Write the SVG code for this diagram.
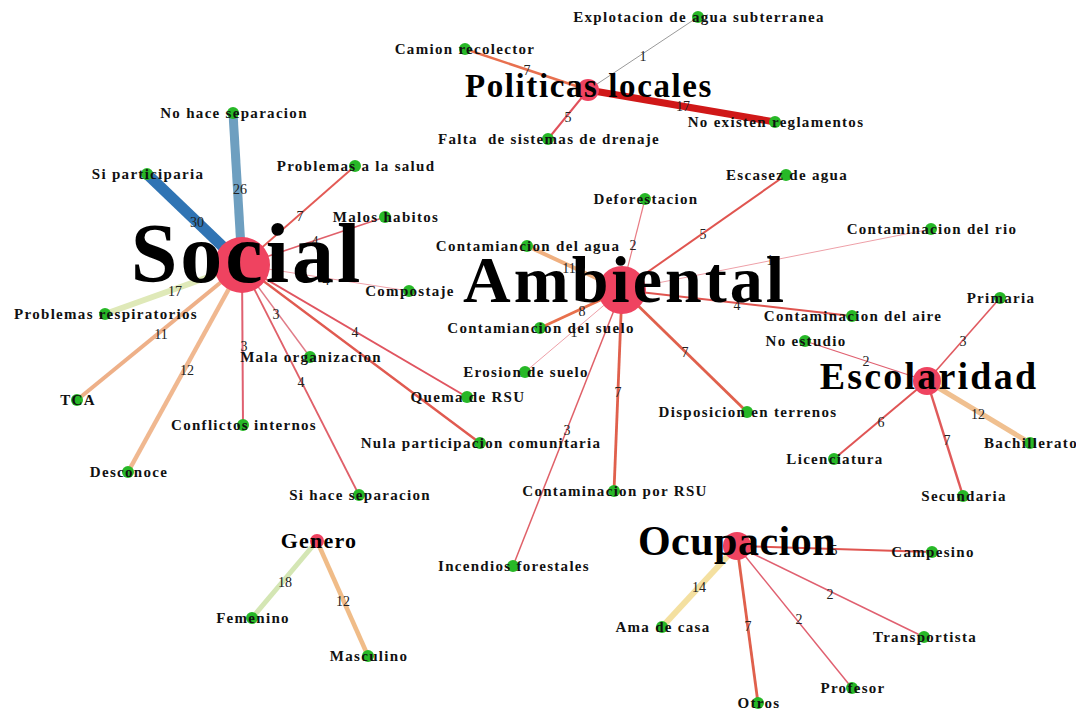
<svg xmlns="http://www.w3.org/2000/svg" width="1076" height="711" viewBox="0 0 1076 711">
<style>
.e{fill:none;stroke-linecap:butt}
.hub{fill:#ef4360}
.leaf{fill:#27b827}
.lbl{font-family:"Liberation Serif",serif;font-weight:bold;font-size:15px;letter-spacing:1.3px;fill:#111;text-anchor:middle}
.el{font-family:"Liberation Serif",serif;font-size:14px;fill:#222;text-anchor:middle}
.h{font-family:"Liberation Serif",serif;font-weight:bold;fill:#000;text-anchor:middle}
</style>
<rect width="1076" height="711" fill="#fff"/>
<g id="connectors">
<line class="e" x1="588" y1="90" x2="698" y2="17" stroke="#9a9a9a" stroke-width="1"/>
<line class="e" x1="588" y1="90" x2="465" y2="49" stroke="#e8704f" stroke-width="2.5"/>
<line class="e" x1="588" y1="90" x2="775" y2="122" stroke="#d01818" stroke-width="7"/>
<line class="e" x1="588" y1="90" x2="548" y2="139" stroke="#e0505a" stroke-width="2"/>
<line class="e" x1="242" y1="265" x2="233" y2="113" stroke="#6e9fc0" stroke-width="9"/>
<line class="e" x1="242" y1="265" x2="147" y2="174" stroke="#3074b4" stroke-width="11"/>
<line class="e" x1="242" y1="265" x2="355" y2="166" stroke="#e35a55" stroke-width="2"/>
<line class="e" x1="242" y1="265" x2="385" y2="217" stroke="#e0606a" stroke-width="1.6"/>
<line class="e" x1="242" y1="265" x2="409" y2="291" stroke="#eea0a8" stroke-width="1"/>
<line class="e" x1="242" y1="265" x2="105" y2="314" stroke="#dfe9b8" stroke-width="6"/>
<line class="e" x1="242" y1="265" x2="77" y2="400" stroke="#eeb088" stroke-width="4"/>
<line class="e" x1="242" y1="265" x2="128" y2="472" stroke="#f0b890" stroke-width="4.5"/>
<line class="e" x1="242" y1="265" x2="243" y2="425" stroke="#e06070" stroke-width="2"/>
<line class="e" x1="242" y1="265" x2="310" y2="357" stroke="#e07c88" stroke-width="1.5"/>
<line class="e" x1="242" y1="265" x2="359" y2="495" stroke="#e0606a" stroke-width="1.8"/>
<line class="e" x1="242" y1="265" x2="467" y2="397" stroke="#e05560" stroke-width="2"/>
<line class="e" x1="242" y1="265" x2="480" y2="443" stroke="#e05a50" stroke-width="2.5"/>
<line class="e" x1="622" y1="290" x2="645" y2="199" stroke="#e87c84" stroke-width="1.2"/>
<line class="e" x1="622" y1="290" x2="786" y2="175" stroke="#e05550" stroke-width="2"/>
<line class="e" x1="622" y1="290" x2="931" y2="229" stroke="#eea0a8" stroke-width="1"/>
<line class="e" x1="622" y1="290" x2="527" y2="246" stroke="#f0b080" stroke-width="4"/>
<line class="e" x1="622" y1="290" x2="540" y2="328" stroke="#e8704c" stroke-width="3"/>
<line class="e" x1="622" y1="290" x2="525" y2="372" stroke="#eea0a8" stroke-width="1"/>
<line class="e" x1="622" y1="290" x2="852" y2="316" stroke="#e05550" stroke-width="2"/>
<line class="e" x1="622" y1="290" x2="747" y2="412" stroke="#e0604c" stroke-width="2.8"/>
<line class="e" x1="622" y1="290" x2="614" y2="491" stroke="#e0604c" stroke-width="2.8"/>
<line class="e" x1="622" y1="290" x2="513" y2="566" stroke="#e06068" stroke-width="1.5"/>
<line class="e" x1="927" y1="381" x2="1000" y2="298" stroke="#e05a60" stroke-width="1.6"/>
<line class="e" x1="927" y1="381" x2="805" y2="341" stroke="#e06070" stroke-width="1.3"/>
<line class="e" x1="927" y1="381" x2="1030" y2="443" stroke="#f0c090" stroke-width="5"/>
<line class="e" x1="927" y1="381" x2="834" y2="459" stroke="#e05555" stroke-width="2"/>
<line class="e" x1="927" y1="381" x2="963" y2="496" stroke="#e05a5a" stroke-width="2.5"/>
<line class="e" x1="737" y1="546" x2="932" y2="552" stroke="#e05550" stroke-width="2"/>
<line class="e" x1="737" y1="546" x2="662" y2="627" stroke="#f4e0a0" stroke-width="6"/>
<line class="e" x1="737" y1="546" x2="758" y2="703" stroke="#e0604c" stroke-width="2.8"/>
<line class="e" x1="737" y1="546" x2="852" y2="688" stroke="#e06070" stroke-width="1.5"/>
<line class="e" x1="737" y1="546" x2="924" y2="637" stroke="#e06070" stroke-width="1.5"/>
<line class="e" x1="317" y1="541" x2="252" y2="618" stroke="#d4e6b4" stroke-width="5"/>
<line class="e" x1="317" y1="541" x2="368" y2="656" stroke="#f0bc88" stroke-width="4.5"/>
<text class="el" x="643" y="61">1</text>
<text class="el" x="527" y="75">7</text>
<text class="el" x="683" y="111">17</text>
<text class="el" x="568" y="122">5</text>
<text class="el" x="240" y="194">26</text>
<text class="el" x="197" y="227">30</text>
<text class="el" x="300" y="221">7</text>
<text class="el" x="315" y="246">4</text>
<text class="el" x="326" y="285">4</text>
<text class="el" x="175" y="296">17</text>
<text class="el" x="161" y="339">11</text>
<text class="el" x="187" y="375">12</text>
<text class="el" x="244" y="351">3</text>
<text class="el" x="276" y="319">3</text>
<text class="el" x="301" y="387">4</text>
<text class="el" x="355" y="337">4</text>
<text class="el" x="633" y="250">2</text>
<text class="el" x="703" y="239">5</text>
<text class="el" x="770" y="265">1</text>
<text class="el" x="569" y="273">11</text>
<text class="el" x="582" y="316">8</text>
<text class="el" x="574" y="337">1</text>
<text class="el" x="737" y="310">4</text>
<text class="el" x="685" y="357">7</text>
<text class="el" x="618" y="397">7</text>
<text class="el" x="567" y="435">3</text>
<text class="el" x="963" y="346">3</text>
<text class="el" x="866" y="366">2</text>
<text class="el" x="978" y="419">12</text>
<text class="el" x="881" y="427">6</text>
<text class="el" x="947" y="445">7</text>
<text class="el" x="834" y="555">5</text>
<text class="el" x="699" y="592">14</text>
<text class="el" x="748" y="631">7</text>
<text class="el" x="799" y="624">2</text>
<text class="el" x="830" y="599">2</text>
<text class="el" x="285" y="587">18</text>
<text class="el" x="343" y="606">12</text>
</g>
<g id="n-explotacion"><circle class="leaf" cx="698" cy="17" r="6"/><text class="lbl" x="699" y="22">Explotacion de agua subterranea</text></g>
<g id="n-camion"><circle class="leaf" cx="465" cy="49" r="6"/><text class="lbl" x="465" y="54">Camion recolector</text></g>
<g id="n-reglamentos"><circle class="leaf" cx="775" cy="122" r="6"/><text class="lbl" x="776" y="127">No existen reglamentos</text></g>
<g id="n-drenaje"><circle class="leaf" cx="548" cy="139" r="6"/><text class="lbl" x="549" y="144" xml:space="preserve">Falta  de sistemas de drenaje</text></g>
<g id="n-nohace"><circle class="leaf" cx="233" cy="113" r="6"/><text class="lbl" x="234" y="118">No hace separacion</text></g>
<g id="n-siparticiparia"><circle class="leaf" cx="147" cy="174" r="6"/><text class="lbl" x="148" y="179">Si participaria</text></g>
<g id="n-salud"><circle class="leaf" cx="355" cy="166" r="6"/><text class="lbl" x="356" y="171">Problemas a la salud</text></g>
<g id="n-malos"><circle class="leaf" cx="385" cy="217" r="6"/><text class="lbl" x="386" y="222">Malos habitos</text></g>
<g id="n-compostaje"><circle class="leaf" cx="409" cy="291" r="6"/><text class="lbl" x="410" y="296">Compostaje</text></g>
<g id="n-respiratorios"><circle class="leaf" cx="105" cy="314" r="6"/><text class="lbl" x="106" y="319">Problemas respiratorios</text></g>
<g id="n-tca"><circle class="leaf" cx="77" cy="400" r="6"/><text class="lbl" x="78" y="405">TCA</text></g>
<g id="n-desconoce"><circle class="leaf" cx="128" cy="472" r="6"/><text class="lbl" x="129" y="477">Desconoce</text></g>
<g id="n-conflictos"><circle class="leaf" cx="243" cy="425" r="6"/><text class="lbl" x="244" y="430">Conflictos internos</text></g>
<g id="n-mala"><circle class="leaf" cx="310" cy="357" r="6"/><text class="lbl" x="311" y="362">Mala organizacion</text></g>
<g id="n-sihace"><circle class="leaf" cx="359" cy="495" r="6"/><text class="lbl" x="360" y="500">Si hace separacion</text></g>
<g id="n-quema"><circle class="leaf" cx="467" cy="397" r="6"/><text class="lbl" x="468" y="402">Quema de RSU</text></g>
<g id="n-nula"><circle class="leaf" cx="480" cy="443" r="6"/><text class="lbl" x="481" y="448">Nula participacion comunitaria</text></g>
<g id="n-deforestacion"><circle class="leaf" cx="645" cy="199" r="6"/><text class="lbl" x="646" y="204">Deforestacion</text></g>
<g id="n-escasez"><circle class="leaf" cx="786" cy="175" r="6"/><text class="lbl" x="787" y="180">Escasez de agua</text></g>
<g id="n-rio"><circle class="leaf" cx="931" cy="229" r="6"/><text class="lbl" x="932" y="234">Contaminacion del rio</text></g>
<g id="n-agua"><circle class="leaf" cx="527" cy="246" r="6"/><text class="lbl" x="528" y="251">Contamiancion del agua</text></g>
<g id="n-suelo"><circle class="leaf" cx="540" cy="328" r="6"/><text class="lbl" x="541" y="333">Contamiancion del suelo</text></g>
<g id="n-erosion"><circle class="leaf" cx="525" cy="372" r="6"/><text class="lbl" x="526" y="377">Erosion de suelo</text></g>
<g id="n-aire"><circle class="leaf" cx="852" cy="316" r="6"/><text class="lbl" x="853" y="321">Contaminacion del aire</text></g>
<g id="n-disposicion"><circle class="leaf" cx="747" cy="412" r="6"/><text class="lbl" x="748" y="417">Disposicion en terrenos</text></g>
<g id="n-rsu"><circle class="leaf" cx="614" cy="491" r="6"/><text class="lbl" x="615" y="496">Contaminacion por RSU</text></g>
<g id="n-incendios"><circle class="leaf" cx="513" cy="566" r="6"/><text class="lbl" x="514" y="571">Incendios forestales</text></g>
<g id="n-primaria"><circle class="leaf" cx="1000" cy="298" r="6"/><text class="lbl" x="1001" y="303">Primaria</text></g>
<g id="n-noestudio"><circle class="leaf" cx="805" cy="341" r="6"/><text class="lbl" x="806" y="346">No estudio</text></g>
<g id="n-bachillerato"><circle class="leaf" cx="1030" cy="443" r="6"/><text class="lbl" x="1031" y="448">Bachillerato</text></g>
<g id="n-licenciatura"><circle class="leaf" cx="834" cy="459" r="6"/><text class="lbl" x="835" y="464">Licenciatura</text></g>
<g id="n-secundaria"><circle class="leaf" cx="963" cy="496" r="6"/><text class="lbl" x="964" y="501">Secundaria</text></g>
<g id="n-campesino"><circle class="leaf" cx="932" cy="552" r="6"/><text class="lbl" x="933" y="557">Campesino</text></g>
<g id="n-ama"><circle class="leaf" cx="662" cy="627" r="6"/><text class="lbl" x="663" y="632">Ama de casa</text></g>
<g id="n-otros"><circle class="leaf" cx="758" cy="703" r="6"/><text class="lbl" x="759" y="708">Otros</text></g>
<g id="n-profesor"><circle class="leaf" cx="852" cy="688" r="6"/><text class="lbl" x="853" y="693">Profesor</text></g>
<g id="n-transportista"><circle class="leaf" cx="924" cy="637" r="6"/><text class="lbl" x="925" y="642">Transportista</text></g>
<g id="n-femenino"><circle class="leaf" cx="252" cy="618" r="6"/><text class="lbl" x="253" y="623">Femenino</text></g>
<g id="n-masculino"><circle class="leaf" cx="368" cy="656" r="6"/><text class="lbl" x="369" y="661">Masculino</text></g>
<g id="n-politicas"><circle class="hub" cx="588" cy="90" r="11"/><text class="h" x="589" y="97" font-size="33" letter-spacing="1.6">Politicas locales</text></g>
<g id="n-social"><circle class="hub" cx="242" cy="265" r="28"/><text class="h" x="247" y="282" font-size="84" letter-spacing="3">Social</text></g>
<g id="n-ambiental"><circle class="hub" cx="622" cy="290" r="24"/><text class="h" x="625" y="302" font-size="66" letter-spacing="3">Ambiental</text></g>
<g id="n-escolaridad"><circle class="hub" cx="927" cy="381" r="14"/><text class="h" x="929" y="389" font-size="38" letter-spacing="2.2">Escolaridad</text></g>
<g id="n-ocupacion"><circle class="hub" cx="737" cy="546" r="14"/><text class="h" x="737" y="555" font-size="42" letter-spacing="0.5">Ocupacion</text></g>
<g id="n-genero"><circle class="hub" cx="317" cy="541" r="7"/><text class="h" x="319" y="548" font-size="22" letter-spacing="1.2">Genero</text></g>
</svg>
